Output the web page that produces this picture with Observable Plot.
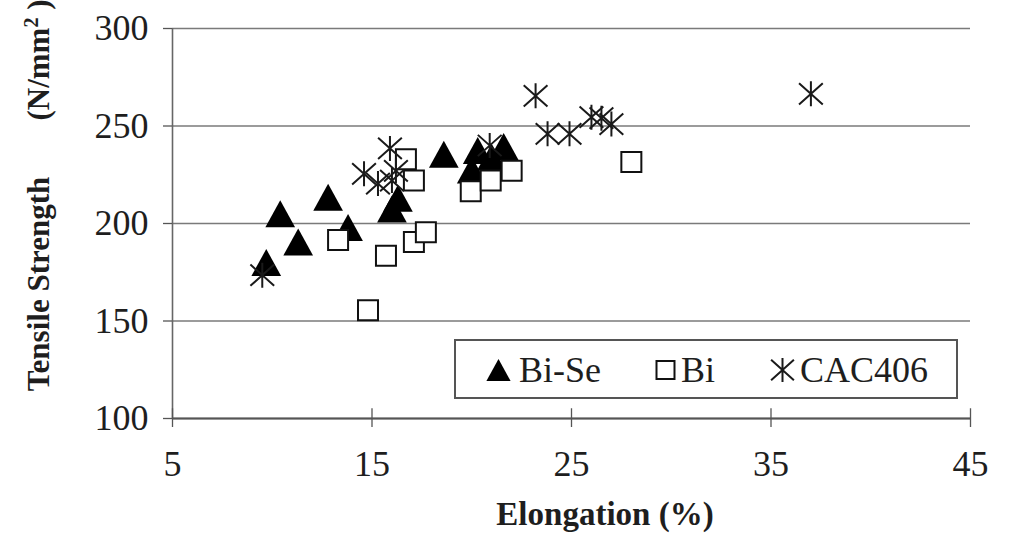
<!DOCTYPE html>
<html>
<head>
<meta charset="utf-8">
<script src="https://cdn.jsdelivr.net/npm/d3@7"></script>
<script src="https://cdn.jsdelivr.net/npm/@observablehq/plot@0.6"></script>
<style>
  html, body { margin: 0; padding: 0; background: #fff; }
  #chart { width: 1013px; height: 536px; }
</style>
</head>
<body>
<div id="chart"></div>
<script>
// ---- data ----
const xTicks = [5, 15, 25, 35, 45];
const yTicks = [100, 150, 200, 250, 300];
const seriesNames = ["Bi-Se", "Bi", "CAC406"];

const biSeX = [9.7, 10.4, 11.3, 12.8, 13.8, 16.0, 16.3, 18.6, 20.0, 20.3, 21.0, 21.6];
const biSeY = [180, 205, 190.5, 213.5, 198, 207.5, 213, 235.5, 227.5, 237.5, 234, 239.5];

const biX = [13.3, 14.8, 15.7, 17.1, 17.7, 16.7, 17.1, 19.95, 20.95, 22.0, 28.0];
const biY = [191.5, 155.5, 183.5, 190.5, 195.5, 233, 222, 216.5, 222, 227, 231.5];

const cacX = [9.5, 14.6, 15.3, 15.9, 16.0, 16.2, 20.9, 23.2, 23.8, 24.9, 26.0, 26.5, 27.0, 37.0];
const cacY = [173.5, 225.5, 220.5, 238.5, 222, 227, 240, 265.5, 246, 246, 254.5, 254, 251, 266.5];

const toRows = (xs, ys, s) => xs.map((x, i) => ({x, y: ys[i], series: s}));
const biSe = toRows(biSeX, biSeY, seriesNames[0]);
const bi = toRows(biX, biY, seriesNames[1]);
const cac = toRows(cacX, cacY, seriesNames[2]);

// ---- custom symbols ----
const triSym = {draw(ctx, size) { const r = Math.sqrt(size / Math.PI);
  ctx.moveTo(0, -r); ctx.lineTo(1.1 * r, r); ctx.lineTo(-1.1 * r, r); ctx.closePath(); }};
const sqSym = {draw(ctx, size) { const r = Math.sqrt(size / Math.PI);
  ctx.moveTo(-r, -r); ctx.lineTo(r, -r); ctx.lineTo(r, r); ctx.lineTo(-r, r); ctx.closePath(); }};
const astSym = {draw(ctx, size) { const r = Math.sqrt(size / Math.PI);
  ctx.moveTo(0, -r); ctx.lineTo(0, r);
  ctx.moveTo(-0.95 * r, -0.85 * r); ctx.lineTo(0.95 * r, 0.85 * r);
  ctx.moveTo(0.95 * r, -0.85 * r); ctx.lineTo(-0.95 * r, 0.85 * r); }};

const FONT = "'Liberation Serif', 'Times New Roman', serif";

const chart = Plot.plot({
  width: 1013,
  height: 536,
  marginLeft: 172,
  marginRight: 43,
  marginTop: 28,
  marginBottom: 118,
  style: {fontFamily: FONT, background: "#fff", color: "#1e1e1e"},
  x: {domain: [5, 45]},
  y: {domain: [100, 300]},
  marks: [
    Plot.gridY(yTicks, {stroke: "#7a7a7a", strokeOpacity: 1, strokeWidth: 1.6}),
    Plot.ruleX([5], {stroke: "#666", strokeWidth: 1.6}),
    Plot.dot(biSe, {x: "x", y: "y", symbol: triSym, r: 13.5, fill: "#000", stroke: "none"}),
    Plot.dot(bi, {x: "x", y: "y", symbol: sqSym, r: 10, fill: "#fff", stroke: "#111", strokeWidth: 2}),
    Plot.dot(cac, {x: "x", y: "y", symbol: astSym, r: 12.5, fill: "none", stroke: "#1a1a1a", strokeWidth: 2}),
    Plot.ruleY([100], {stroke: "#555", strokeWidth: 2}),
    Plot.ruleX(xTicks, {y1: 100, y2: 105, stroke: "#555", strokeWidth: 1.3}),
    Plot.axisX(xTicks, {tickSize: 9, tickPadding: 23, fontSize: 36, stroke: "#555", strokeWidth: 1.3, label: null, tickFormat: d => String(d)}),
    Plot.axisY(yTicks, {tickSize: 9, tickPadding: 15, fontSize: 36, stroke: "#555", strokeWidth: 1.3, label: null, tickFormat: d => String(d)})
  ]
});
document.getElementById("chart").appendChild(chart);

const svg = d3.select(chart);

// axis titles
svg.append("text")
  .attr("x", 605).attr("y", 525)
  .attr("text-anchor", "middle")
  .style("font", `bold 33px ${FONT}`).attr("fill", "#1e1e1e")
  .text("Elongation (%)");

svg.append("text")
  .attr("transform", "translate(49,284) rotate(-90)")
  .attr("text-anchor", "middle")
  .style("font", `bold 31px ${FONT}`).attr("fill", "#1e1e1e")
  .text("Tensile Strength");

const unit = svg.append("text")
  .attr("transform", "translate(49,60) rotate(-90)")
  .attr("text-anchor", "middle")
  .style("font", `bold 31px ${FONT}`).attr("fill", "#1e1e1e");
unit.append("tspan").text("(N/mm");
unit.append("tspan").attr("baseline-shift", "super").style("font-size", "20px").text("2");
unit.append("tspan").text(" )");

// legend (inside the plot frame)
const lg = svg.append("g");
lg.append("rect").attr("x", 455).attr("y", 340).attr("width", 502).attr("height", 58)
  .attr("fill", "#fff").attr("stroke", "#555").attr("stroke-width", 2);
const legendItems = [
  {name: seriesNames[0], sym: triSym, r: 11, fill: "#000", stroke: "none", sx: 498.5, tx: 519},
  {name: seriesNames[1], sym: sqSym, r: 9, fill: "#fff", stroke: "#111", sx: 665.5, tx: 681},
  {name: seriesNames[2], sym: astSym, r: 12, fill: "none", stroke: "#1a1a1a", sx: 782.5, tx: 800}
];
for (const it of legendItems) {
  lg.append("path")
    .attr("d", d3.symbol().type(it.sym).size(it.r * it.r * Math.PI)())
    .attr("transform", `translate(${it.sx},370)`)
    .attr("fill", it.fill).attr("stroke", it.stroke).attr("stroke-width", 2);
  lg.append("text").attr("x", it.tx).attr("y", 382)
    .attr("text-anchor", "start")
    .style("font", `36px ${FONT}`).attr("fill", "#1e1e1e")
    .text(it.name);
}
</script>
</body>
</html>
